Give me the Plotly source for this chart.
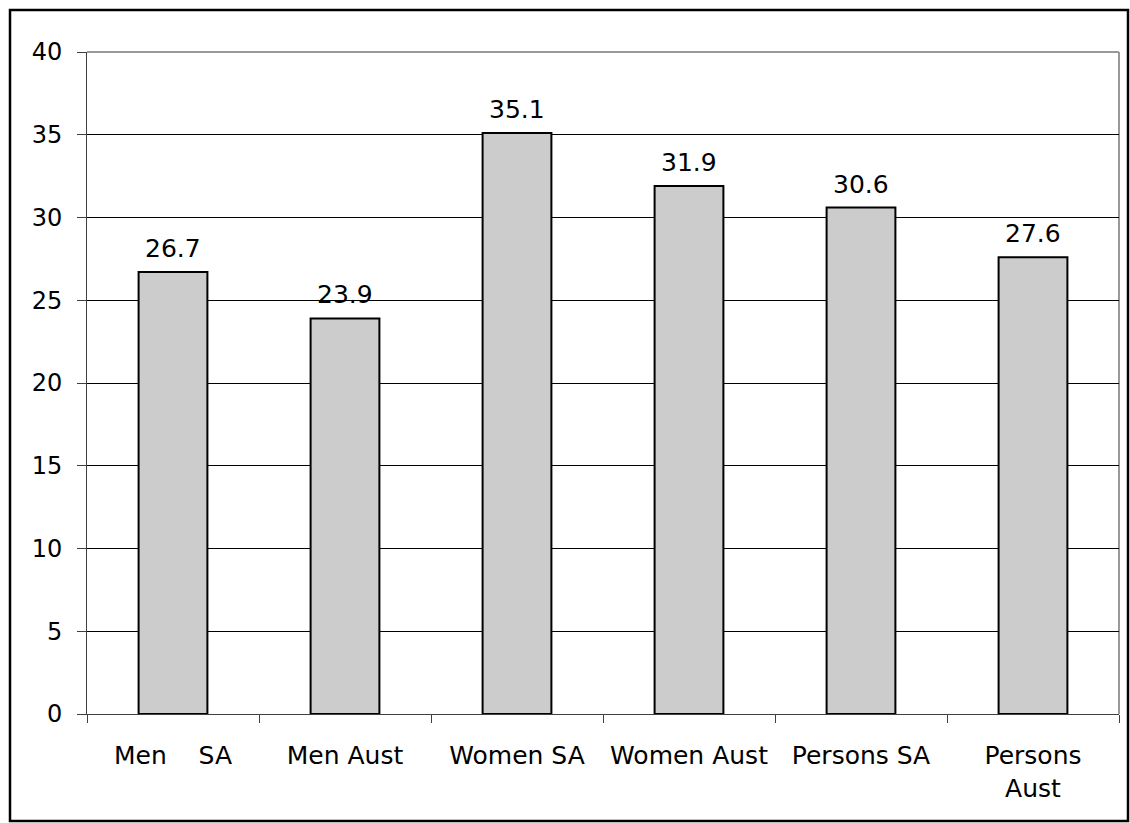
import plotly.graph_objects as go

categories = ["Men\u00a0\u00a0\u00a0\u00a0SA", "Men Aust", "Women SA", "Women Aust", "Persons SA", "Persons<br>Aust"]
values = [26.7, 23.9, 35.1, 31.9, 30.6, 27.6]
y_ticks = [0, 5, 10, 15, 20, 25, 30, 35, 40]

W, H = 1130, 823
L, R, T, B = 87, 1119, 52, 714  # plot area in pixels

FONT = "DejaVu Sans, Verdana, sans-serif"

fig = go.Figure()
fig.add_trace(go.Bar(
    x=categories, y=values, width=0.4,
    marker=dict(color="#cccccc", line=dict(color="#000000", width=2)),
    hoverinfo="skip",
))

# value labels above each bar
for c, v in zip(categories, values):
    fig.add_annotation(x=c, y=v, text=f"{v}", showarrow=False,
                       yanchor="bottom", yshift=7,
                       font=dict(family=FONT, size=25, color="#000000"))

def px_x(p):
    return (p - L) / (R - L)

def px_y(p):
    return (B - p) / (B - T)

# outer frame around whole chart
fig.add_shape(type="rect", xref="paper", yref="paper",
              x0=px_x(10), x1=px_x(1128), y0=px_y(821), y1=px_y(10),
              line=dict(color="#000000", width=2.5), layer="above")

# grey frame on top and right of plot area
fig.add_shape(type="line", xref="paper", yref="paper", x0=0, x1=1, y0=1, y1=1,
              line=dict(color="#999999", width=2), layer="below")
fig.add_shape(type="line", xref="paper", yref="paper", x0=1, x1=1, y0=0, y1=1,
              line=dict(color="#999999", width=2), layer="below")

fig.update_layout(
    width=W, height=H,
    margin=dict(l=L, r=W - R, t=T, b=H - B),
    paper_bgcolor="white", plot_bgcolor="white",
    showlegend=False, bargap=0.6,
    font=dict(family=FONT, size=24, color="#000000"),
    xaxis=dict(
        type="category", showgrid=False, tickson="boundaries",
        ticks="outside", ticklen=8, tickcolor="#404040", tickwidth=1,
        showline=True, linecolor="#404040", linewidth=1,
        tickfont=dict(family=FONT, size=25, color="#000000"),
        ticklabelstandoff=19,
    ),
    yaxis=dict(
        range=[0, 40], tickvals=y_ticks, showgrid=True,
        gridcolor="#000000", gridwidth=1,
        ticks="outside", ticklen=9, tickcolor="#404040", tickwidth=1,
        showline=True, linecolor="#404040", linewidth=1,
        zeroline=False,
        tickfont=dict(family=FONT, size=24, color="#000000"),
        ticklabelstandoff=10,
    ),
)

fig.write_html("out.html")
